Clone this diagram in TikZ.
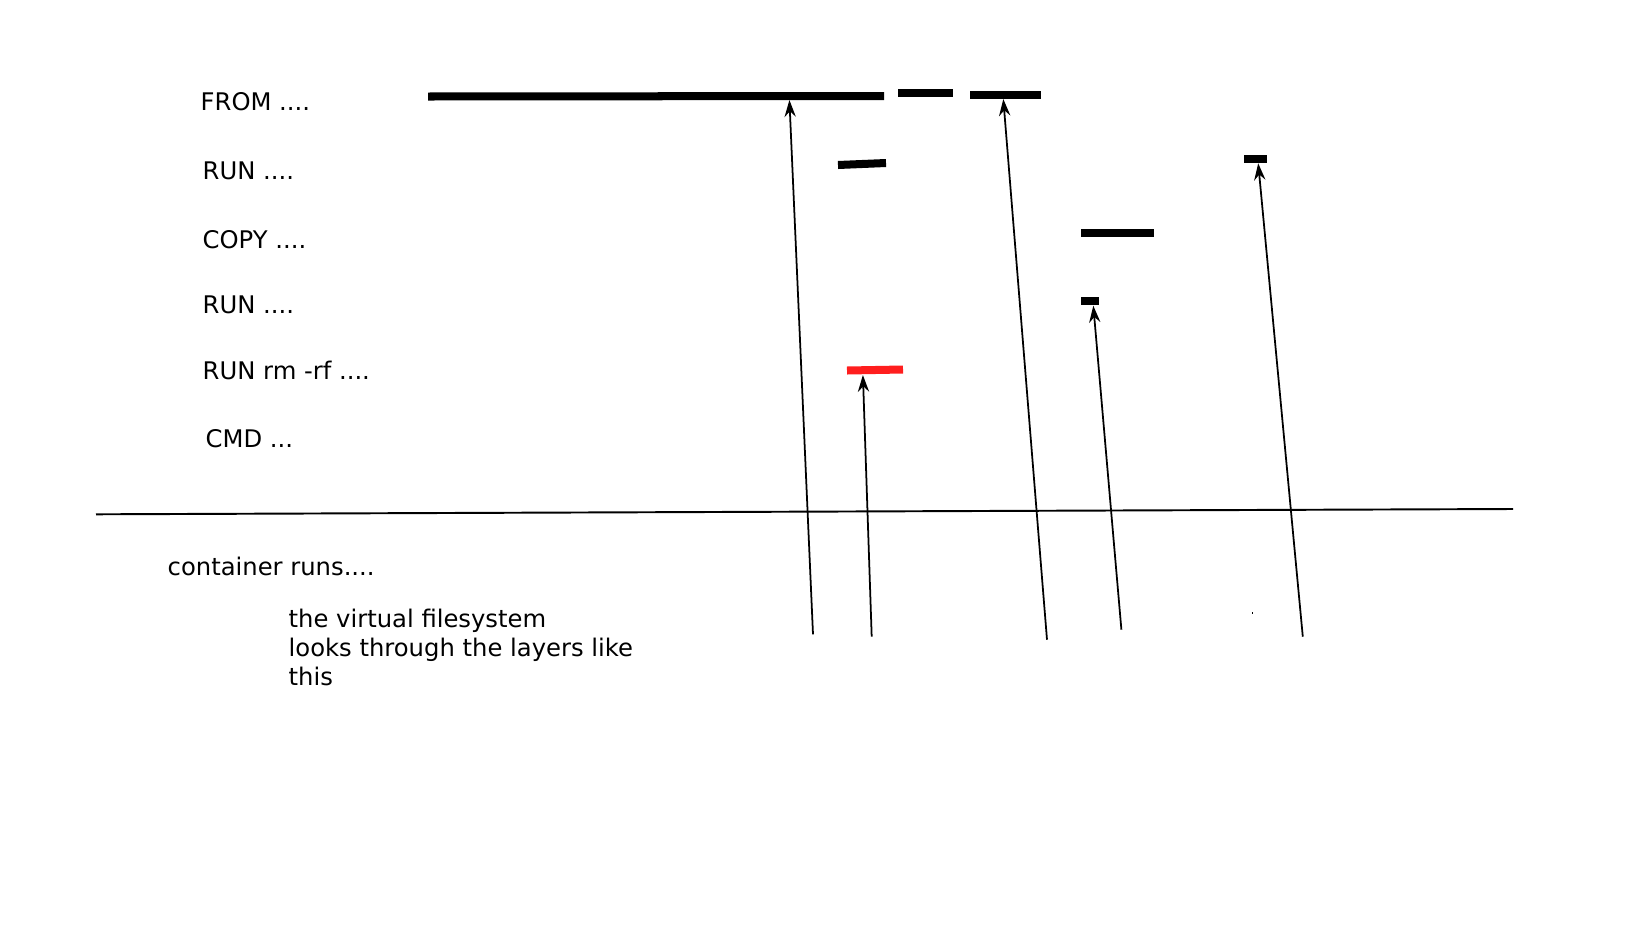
\documentclass[tikz,border=0pt]{standalone}
\usepackage{fontspec}
\setmainfont{DejaVu Sans}
\usetikzlibrary{arrows.meta}
\definecolor{rmred}{RGB}{255,30,30}
\tikzset{
  cmdlabel/.style={anchor=base west, inner sep=0pt, font=\fontsize{6.9pt}{8.2pt}\selectfont},
  layer/.style={line width=0.08cm},
  lookup/.style={line width=0.5pt, -{Stealth[length=4.8pt, width=3.2pt, inset=1.6pt]}}
}
\begin{document}
\begin{tikzpicture}[x=0.01cm, y=-0.01cm]
      \useasboundingbox (0,0) rectangle (1648,927);
      \draw
        (200,110) node[cmdlabel] (from){FROM ....}
        (202,179) node[cmdlabel] (run1){RUN ....}
        (202,248) node[cmdlabel] (copy){COPY ....}
        (202,313) node[cmdlabel] (run2){RUN ....}
        (202,379) node[cmdlabel] (rmrf){RUN rm -rf ....}
        (205,447) node[cmdlabel] (cmd){CMD ...}
        (167,575) node[cmdlabel] (runs){container runs....}
        (288,685) node[cmdlabel, align=left] (vfs){the virtual filesystem\\looks through the layers like\\this};
      \begin{scope}[layer]
        \draw (428,96.5) -- (884,96);
        \draw (898,93) -- (953,93);
        \draw (970,95) -- (1041,95);
        \draw (838,165) -- (886,163);
        \draw (1244,159) -- (1267,159);
        \draw (1081,233) -- (1154,233);
        \draw (1081,301) -- (1099,301);
        \draw[rmred] (847,370.5) -- (903,369.5);
      \end{scope}
      \draw[line width=0.55pt] (96,514.3) -- (1513,509);
      \fill (1252.3,611.8) rectangle (1253.3,613.6);
      \draw
        (813,634.3) coordinate (t1)
        (871.7,636.7) coordinate (t2)
        (1047,639.7) coordinate (t3)
        (1121.4,629.7) coordinate (t4)
        (1302.8,636.7) coordinate (t5)
        (789.4,100) coordinate (h1)
        (862.9,375) coordinate (h2)
        (1003.3,99) coordinate (h3)
        (1093.3,305.7) coordinate (h4)
        (1258.2,163.3) coordinate (h5);
      \begin{scope}[lookup]
        \draw (t1) to (h1);
        \draw (t2) to (h2);
        \draw (t3) to (h3);
        \draw (t4) to (h4);
        \draw (t5) to (h5);
      \end{scope}
    \end{tikzpicture}
\end{document}
